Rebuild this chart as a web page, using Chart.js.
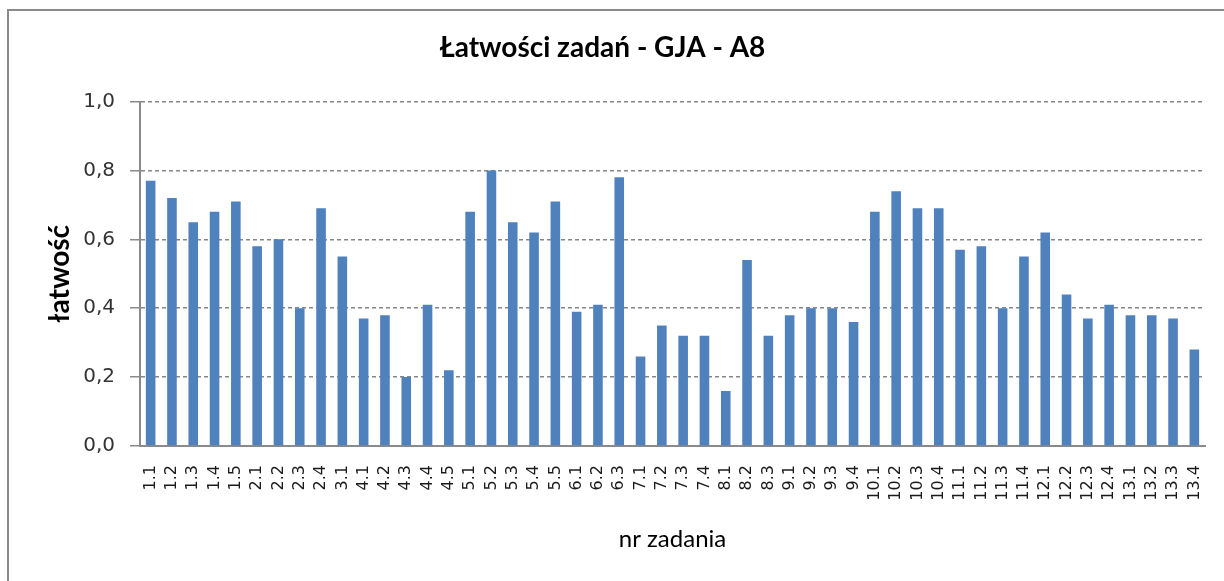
<!DOCTYPE html>
<html>
<head>
<meta charset="utf-8">
<script src="https://cdn.jsdelivr.net/npm/chart.js@4/dist/chart.umd.min.js"></script>
<style>
  html, body { margin: 0; padding: 0; background: #fff; }
  #wrap { width: 1224px; height: 581px; }
</style>
</head>
<body>
<div id="wrap"><canvas id="latwosci" width="1224" height="581"></canvas></div>
<script>
// numery zadań
const tasks = ['1.1', '1.2', '1.3', '1.4', '1.5', '2.1', '2.2', '2.3', '2.4', '3.1',
  '4.1', '4.2', '4.3', '4.4', '4.5', '5.1', '5.2', '5.3', '5.4', '5.5',
  '6.1', '6.2', '6.3', '7.1', '7.2', '7.3', '7.4', '8.1', '8.2', '8.3',
  '9.1', '9.2', '9.3', '9.4', '10.1', '10.2', '10.3', '10.4', '11.1', '11.2',
  '11.3', '11.4', '12.1', '12.2', '12.3', '12.4', '13.1', '13.2', '13.3', '13.4'];

// łatwość
const easiness = [0.77, 0.72, 0.65, 0.68, 0.71, 0.58, 0.60, 0.40, 0.69, 0.55,
  0.37, 0.38, 0.20, 0.41, 0.22, 0.68, 0.80, 0.65, 0.62, 0.71,
  0.39, 0.41, 0.78, 0.26, 0.35, 0.32, 0.32, 0.16, 0.54, 0.32,
  0.38, 0.40, 0.40, 0.36, 0.68, 0.74, 0.69, 0.69, 0.57, 0.58,
  0.40, 0.55, 0.62, 0.44, 0.37, 0.41, 0.38, 0.38, 0.37, 0.28];

const yTicks = [0, 0.2, 0.4, 0.6, 0.8, 1.0];

// ramka wykresu (lewa i górna krawędź jak w Excelu)
const frame = {
  id: 'frame',
  beforeDraw(chart) {
    const c = chart.ctx;
    c.save();
    c.strokeStyle = '#8a8a8a';
    c.lineWidth = 2;
    c.beginPath();
    c.moveTo(8, chart.height);
    c.lineTo(8, 10);
    c.lineTo(chart.width, 10);
    c.stroke();
    c.restore();
  }
};

const ctx = document.getElementById('latwosci').getContext('2d');
new Chart(ctx, {
  type: 'bar',
  data: {
    labels: tasks,
    datasets: [{
      label: 'łatwość',
      data: easiness,
      backgroundColor: '#4f81bd',
      borderWidth: 0,
      barPercentage: 0.45,
      categoryPercentage: 1.0
    }]
  },
  options: {
    responsive: false,
    animation: false,
    layout: { padding: { left: 0, top: 0, right: 19, bottom: 0 } },
    plugins: {
      legend: { display: false },
      tooltip: { enabled: false },
      title: {
        display: true,
        text: 'Łatwości zadań - GJA - A8',
        color: '#000',
        font: { family: 'Lato', size: 28, weight: 'bold' },
        padding: { top: 31, bottom: 37 }
      }
    },
    scales: {
      x: {
        grid: { display: false, drawTicks: false },
        border: { display: true, color: '#8a8a8a', width: 2 },
        ticks: {
          autoSkip: false,
          minRotation: 90,
          maxRotation: 90,
          padding: 19,
          color: '#1a1a1a',
          font: { family: 'DejaVu Sans', size: 16 }
        },
        title: {
          display: true,
          text: 'nr zadania',
          color: '#000',
          font: { family: 'Lato', size: 24 },
          padding: { top: 0, bottom: 27 }
        },
        afterFit(scale) {
          scale.height = 135;
          scale.paddingLeft = 0;
          scale.paddingRight = 0;
        }
      },
      y: {
        min: 0,
        max: 1,
        afterBuildTicks(scale) { scale.ticks = yTicks.map(v => ({ value: v })); },
        grid: {
          color: '#868686',
          lineWidth: 1.5,
          tickLength: 10,
          tickColor: '#8a8a8a',
          tickBorderDash: []
        },
        border: { display: true, color: '#8a8a8a', width: 2, dash: [4, 3] },
        ticks: {
          padding: 15,
          color: '#333',
          font: { family: 'DejaVu Sans', size: 20 },
          callback: v => v.toFixed(1).replace('.', ',')
        },
        title: {
          display: true,
          text: 'łatwość',
          color: '#000',
          font: { family: 'Lato', size: 28, weight: 'bold' },
          padding: { top: 43, bottom: 0 }
        },
        afterFit(scale) { scale.width = 140; }
      }
    }
  },
  plugins: [frame]
});
</script>
</body>
</html>
